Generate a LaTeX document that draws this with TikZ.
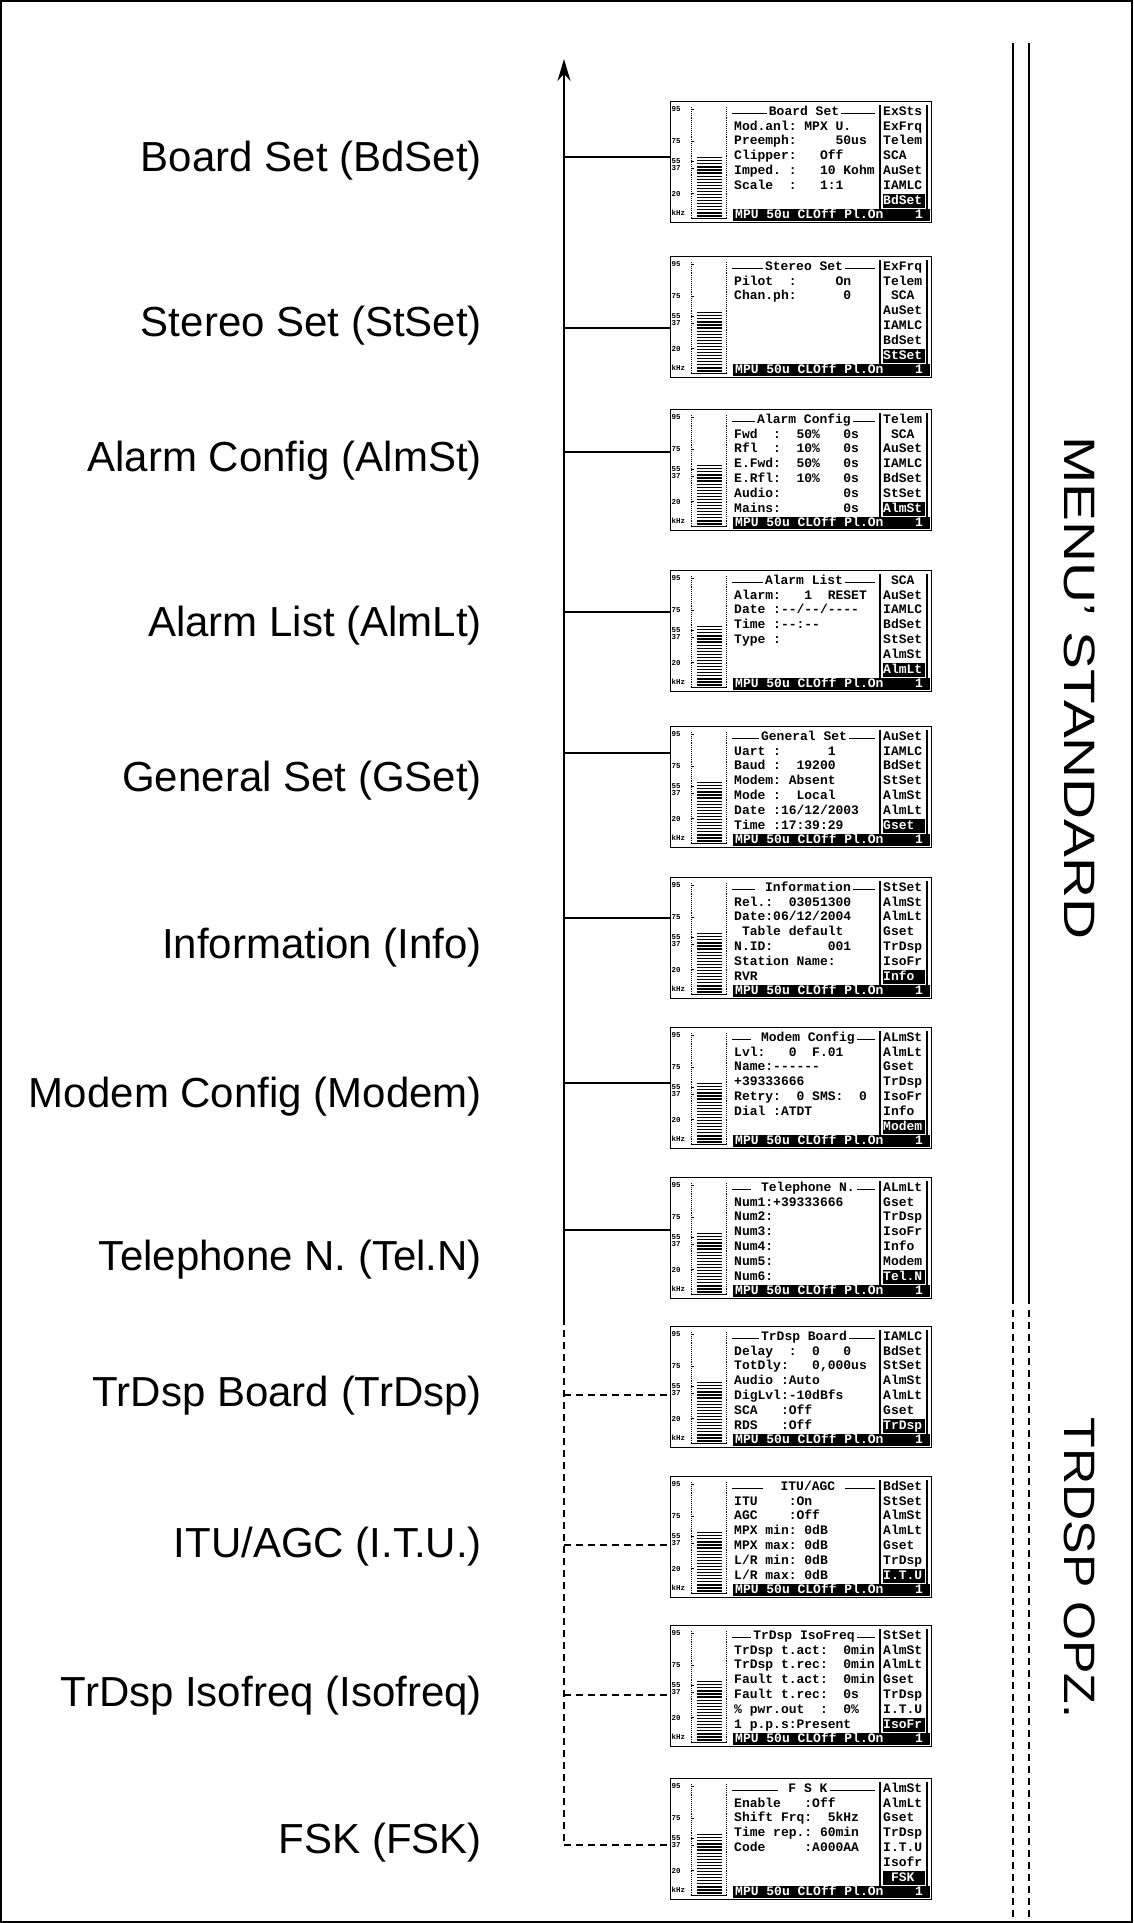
\documentclass[tikz,border=0pt]{standalone}
\usepackage{fontspec}
\setmainfont{Liberation Sans}
\setmonofont{Liberation Mono}
\usetikzlibrary{arrows.meta}

\newcommand\lcdfont{\ttfamily\bfseries\fontsize{13}{15}\selectfont}
\newcommand\lcdsmall{\ttfamily\bfseries\fontsize{7.5}{8}\selectfont}

\tikzset{
  lcdtext/.style={anchor=base west, font=\lcdfont, inner sep=0pt},
  lcdinv/.style={lcdtext, text=white},
  menulabel/.style={anchor=east, font=\fontsize{42}{50}\selectfont, inner sep=0pt},
  sidelabel/.style={rotate=-90, font=\fontsize{44}{50}\selectfont, inner sep=0pt},
  link/.style={line width=2pt},
  optlink/.style={link, dash pattern=on 7pt off 5pt},
}

% one display page: name, top, title, text lines, menu column, selected entry
\newcommand\lcdscreen[6]{%
  \begin{scope}[shift={(670,#2)}]
    \node[draw, line width=1.2pt, minimum width=261pt, minimum height=121pt,
      anchor=north west, inner sep=0pt] (#1) at (0,0) {};
    % level bar
    \draw[densely dotted, line width=0.9pt] (21,6) -- (21,117) (56.7,6) -- (56.7,117);
    \draw[line width=0.9pt] (21,117) -- (56.7,117);
    \foreach \yy in {8.3,40,60,67.3,92.7} \draw[line width=0.9pt] (21,\yy) -- (23.5,\yy);
    \foreach \v/\yy in {95/8.3,75/40,55/60,37/67.3,20/92.7,kHz/111.7}
      \node[anchor=west, font=\lcdsmall, inner sep=0pt] at (1.5,\yy) {\v};
    \foreach \k in {0,...,19}
      \draw[line width=1.2pt] (26.7,{56.7+3.07*\k}) -- (51.7,{56.7+3.07*\k});
    % title
    \node[lcdtext, anchor=base, inner xsep=2pt] (#1-t) at (134,14.2) {#3};
    \coordinate (#1-tl) at (62,12.7);
    \coordinate (#1-tr) at (205,12.7);
    \draw[line width=1pt] (#1-tl) -- (#1-tl -| #1-t.west) (#1-t.east |- #1-tr) -- (#1-tr);
    % text
    \foreach \t [count=\k] in {#4} \node[lcdtext] at (64,{14.2+14.8*\k}) {\t};
    % menu column
    \draw[line width=1.2pt] (210,4) -- (210,108) (257,4) -- (257,108);
    \foreach \m [count=\k from 0] in {#5} \node[lcdtext] at (213,{14.2+14.8*\k}) {\m};
    \fill (213,92.5) rectangle (255,106.5);
    \node[lcdinv] at (213,103) {#6};
    % status line
    \fill (63.3,108) rectangle (259.5,119.5);
    \node[lcdinv] at (65,117.3) {MPU~50u~CLOff~Pl.On};
    \node[lcdinv, anchor=base east] at (253,117.3) {1};
  \end{scope}}

\begin{document}
\begin{tikzpicture}[x=1pt, y=-1pt]
  \useasboundingbox (0,0) rectangle (1133,1923);
  \draw[line width=2pt] (1,1) rectangle (1132,1922);

  % display pages
  \lcdscreen{bd}{101}{Board~Set}{Mod.anl:~MPX~U.,Preemph:~~~~~50us,Clipper:~~~Off,Imped.~:~~~10~Kohm,Scale~~:~~~1:1}{ExSts,ExFrq,Telem,SCA,AuSet,IAMLC}{BdSet}
  \lcdscreen{st}{256}{Stereo~Set}{Pilot~~:~~~~~On,Chan.ph:~~~~~~0}{ExFrq,Telem,~SCA,AuSet,IAMLC,BdSet}{StSet}
  \lcdscreen{ac}{409}{Alarm~Config}{Fwd~~:~~50\%~~~0s,Rfl~~:~~10\%~~~0s,E.Fwd:~~50\%~~~0s,E.Rfl:~~10\%~~~0s,Audio:~~~~~~~~0s,Mains:~~~~~~~~0s}{Telem,~SCA,AuSet,IAMLC,BdSet,StSet}{AlmSt}
  \lcdscreen{al}{570}{Alarm~List}{Alarm:~~~1~~RESET,Date~:--/--/----,Time~:--:--,Type~:}{~SCA,AuSet,IAMLC,BdSet,StSet,AlmSt}{AlmLt}
  \lcdscreen{gs}{726}{General~Set}{Uart~:~~~~~~1,Baud~:~~19200,Modem:~Absent,Mode~:~~Local,Date~:16/12/2003,Time~:17:39:29}{AuSet,IAMLC,BdSet,StSet,AlmSt,AlmLt}{Gset}
  \lcdscreen{info}{877}{~Information~}{Rel.:~~03051300,Date:06/12/2004,~Table~default,N.ID:~~~~~~~001,Station~Name:,RVR}{StSet,AlmSt,AlmLt,Gset,TrDsp,IsoFr}{Info}
  \lcdscreen{mc}{1027}{~Modem~Config}{Lvl:~~~0~~F.01,Name:------,+39333666,Retry:~~0~SMS:~~0,Dial~:ATDT}{ALmSt,AlmLt,Gset,TrDsp,IsoFr,Info}{Modem}
  \lcdscreen{te}{1177}{~Telephone~N.~}{Num1:+39333666,Num2:,Num3:,Num4:,Num5:,Num6:}{ALmLt,Gset,TrDsp,IsoFr,Info,Modem}{Tel.N}
  \lcdscreen{tb}{1326}{TrDsp~Board}{Delay~~:~~0~~~0,{TotDly:~~~0,000us},Audio~:Auto,DigLvl:-10dBfs,SCA~~~:Off,RDS~~~:Off}{IAMLC,BdSet,StSet,AlmSt,AlmLt,Gset}{TrDsp}
  \lcdscreen{itu}{1476}{~~ITU/AGC~~}{ITU~~~~:On,AGC~~~~:Off,MPX~min:~0dB,MPX~max:~0dB,L/R~min:~0dB,L/R~max:~0dB}{BdSet,StSet,AlmSt,AlmLt,Gset,TrDsp}{I.T.U}
  \lcdscreen{iso}{1625}{TrDsp~IsoFreq}{TrDsp~t.act:~~0min,TrDsp~t.rec:~~0min,Fault~t.act:~~0min,Fault~t.rec:~~0s,\%~pwr.out~~:~~0\%,1~p.p.s:Present}{StSet,AlmSt,AlmLt,Gset,TrDsp,I.T.U}{IsoFr}
  \lcdscreen{fsk}{1778}{~F~S~K}{Enable~~~:Off,Shift~Frq:~~5kHz,Time~rep.:~60min,Code~~~~~:A000AA}{AlmSt,AlmLt,Gset,TrDsp,I.T.U,Isofr}{~FSK}

  % menu names
  \node[menulabel] (l-bd) at (482,161) {Board Set (BdSet)};
  \node[menulabel] (l-st) at (482,326) {Stereo Set (StSet)};
  \node[menulabel] (l-ac) at (482,461) {Alarm Config (AlmSt)};
  \node[menulabel] (l-al) at (482,626) {Alarm List (AlmLt)};
  \node[menulabel] (l-gs) at (482,781) {General Set (GSet)};
  \node[menulabel] (l-info) at (482,948) {Information (Info)};
  \node[menulabel] (l-mc) at (482,1097) {Modem Config (Modem)};
  \node[menulabel] (l-te) at (482,1260) {Telephone N. (Tel.N)};
  \node[menulabel] (l-tb) at (482,1396) {TrDsp Board (TrDsp)};
  \node[menulabel] (l-itu) at (482,1547) {ITU/AGC (I.T.U.)};
  \node[menulabel] (l-iso) at (482,1696) {TrDsp Isofreq (Isofreq)};
  \node[menulabel] (l-fsk) at (482,1843) {FSK (FSK)};

  % spine
  \coordinate (tip) at (564,59);
  \coordinate (split) at (564,1318);
  \draw[link, -{Stealth[length=22pt, width=13pt]}] (split) -- (tip);
  \foreach \s/\yy in {bd/157,st/328,ac/452,al/612,gs/753,info/918,mc/1083,te/1230} {
    \coordinate (j-\s) at (564,\yy);
    \draw[link] (j-\s) -- (j-\s -| \s.west);
  }
  \foreach \s/\yy in {tb/1395,itu/1545,iso/1695,fsk/1845} {
    \coordinate (j-\s) at (564,\yy);
    \draw[optlink] (j-\s) -- (j-\s -| \s.west);
  }
  \draw[optlink] (split) -- (j-fsk);

  % groups on the right
  \draw[link] (1013,43) -- (1013,1304) (1029,43) -- (1029,1304);
  \draw[optlink] (1013,1310) -- (1013,1923) (1029,1310) -- (1029,1923);
  \node[sidelabel] (std) at (1080,688) {\scalebox{1.29}[1]{MENU' STANDARD}};
  \node[sidelabel] (opz) at (1080,1568) {\scalebox{1.14}[1]{TRDSP OPZ.}};
\end{tikzpicture}
\end{document}
